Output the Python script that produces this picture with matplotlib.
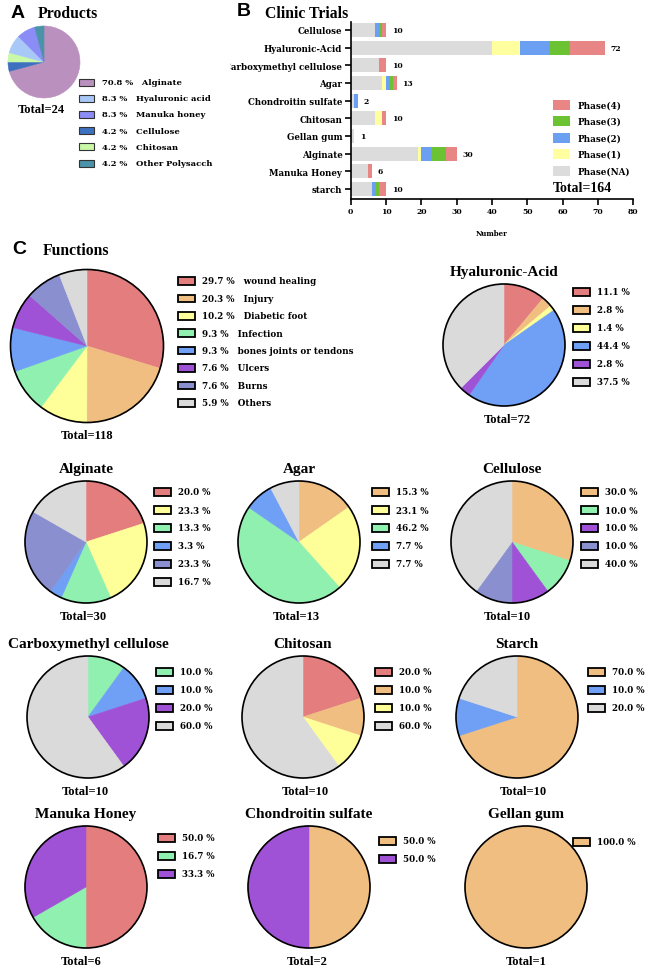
import numpy as np
import matplotlib
matplotlib.use("Agg")
import matplotlib.pyplot as plt
from matplotlib.patches import Rectangle, Circle
from matplotlib.transforms import Bbox

# ---------------- data ----------------
# Panel A: products
product_labels = ["Alginate", "Hyaluronic acid", "Manuka honey", "Cellulose", "Chitosan", "Other Polysacch"]
product_pct = [70.8, 8.3, 8.3, 4.2, 4.2, 4.2]
product_colors = ["#BA90BE", "#A8C8F8", "#8C8CF6", "#3E70C0", "#C8F8A8", "#4A93A8"]
product_pie_order = [0, 3, 4, 1, 2, 5]   # clockwise from top
product_total = 24

# Panel B: clinical trials by phase
trial_categories = ["Cellulose", "Hyaluronic-Acid", "Carboxymethyl cellulose", "Agar",
                    "Chondroitin sulfate", "Chitosan", "Gellan gum", "Alginate",
                    "Manuka Honey", "starch"]
phase_na = [7, 40, 8, 9, 1, 7, 1, 19, 5, 6]
phase_1 = [0, 8, 0, 1, 0, 2, 0, 1, 0, 0]
phase_2 = [1, 8, 0, 1, 1, 0, 0, 3, 0, 1]
phase_3 = [1, 6, 0, 1, 0, 0, 0, 4, 0, 1]
phase_4 = [1, 10, 2, 1, 0, 1, 0, 3, 1, 2]
phase_names = ["Phase(NA)", "Phase(1)", "Phase(2)", "Phase(3)", "Phase(4)"]
phase_colors = ["#DCDCDC", "#FFFFA0", "#6B9FF2", "#6BC232", "#E88585"]
trial_total = 164

# Panel C: functions
functions = ["wound healing", "Injury", "Diabetic foot", "Infection",
             "bones joints or tendons", "Ulcers", "Burns", "Others"]
function_colors = ["#E47E7E", "#F0BE80", "#FFFF99", "#8FF0B0",
                   "#6FA0F5", "#A052D6", "#8A8FD0", "#DADADA"]
function_pct = [29.7, 20.3, 10.2, 9.3, 9.3, 7.6, 7.6, 5.9]
function_total = 118

# per-material function split: (name, function indices, percentages, total)
materials = [
    ("Hyaluronic-Acid", [0, 1, 2, 4, 5, 7], [11.1, 2.8, 1.4, 44.4, 2.8, 37.5], 72),
    ("Alginate", [0, 2, 3, 4, 6, 7], [20.0, 23.3, 13.3, 3.3, 23.3, 16.7], 30),
    ("Agar", [1, 2, 3, 4, 7], [15.3, 23.1, 46.2, 7.7, 7.7], 13),
    ("Cellulose", [1, 3, 5, 6, 7], [30.0, 10.0, 10.0, 10.0, 40.0], 10),
    ("Carboxymethyl cellulose", [3, 4, 5, 7], [10.0, 10.0, 20.0, 60.0], 10),
    ("Chitosan", [0, 1, 2, 7], [20.0, 10.0, 10.0, 60.0], 10),
    ("Starch", [1, 4, 7], [70.0, 10.0, 20.0], 10),
    ("Manuka Honey", [0, 3, 5], [50.0, 16.7, 33.3], 6),
    ("Chondroitin sulfate", [1, 5], [50.0, 50.0], 2),
    ("Gellan gum", [1], [100.0], 1),
]

# layout of the small pies (pixels): centre x, centre y, legend x, legend first row y, total x
small_layout = [
    (504, 346, 573, 293, 507),
    (86, 543, 154, 493, 83),
    (299, 543, 372, 493, 296),
    (512, 543, 581, 493, 507),
    (88, 718, 156, 673, 85),
    (303, 718, 375, 673, 305),
    (517, 718, 588, 673, 523),
    (86, 888, 158, 839, 81),
    (309, 888, 379, 842, 307),
    (526, 888, 573, 843, 526),
]

# ---------------- figure ----------------
SERIF = "Liberation Serif"
TRACK = "DejaVu Serif"
W, H = 652, 970
fig = plt.figure(figsize=(W / 100, H / 100), dpi=100)
canvas = fig.add_axes([0, 0, 1, 1])
canvas.set_xlim(0, W)
canvas.set_ylim(H, 0)
canvas.axis("off")
canvas.set_zorder(10)  # keep legends and labels above the chart axes
canvas.patch.set_alpha(0)


def px_axes(x0, y0, w, h):
    return fig.add_axes([x0 / W, 1 - (y0 + h) / H, w / W, h / H])


def draw_pie(cx, cy, r, values, colors, outline=True):
    pad = 3
    ax = px_axes(cx - r - pad, cy - r - pad, 2 * (r + pad), 2 * (r + pad))
    wedges, _ = ax.pie(values, colors=colors, startangle=90, counterclock=False, radius=1,
                       wedgeprops=dict(linewidth=0.4))
    for w in wedges:
        w.set_edgecolor(w.get_facecolor())
    if outline:
        ax.add_patch(Circle((0, 0), 1, fill=False, ec="black", lw=1.2))
    lim = 1 + pad / r
    ax.set_xlim(-lim, lim)
    ax.set_ylim(-lim, lim)
    return ax


def draw_legend(x, y0, dy, labels, colors, pw=17, ph=7.5, edge="black", lw=1.3, gap=7, size=6.3):
    for i, (lab, c) in enumerate(zip(labels, colors)):
        y = y0 + i * dy
        canvas.add_patch(Rectangle((x, y - ph / 2), pw, ph, fc=c, ec=edge, lw=lw))
        canvas.text(x + pw + gap, y, lab, ha="left", va="center", fontsize=size,
                    fontweight="bold", family=TRACK)


def bold_text(x, y, s, size, family=SERIF, ha="center"):
    canvas.text(x, y, s, ha=ha, va="center", fontsize=size, fontweight="bold", family=family)


# panel letters and headers
bold_text(11, 13, "A", 14, "Liberation Sans", ha="left")
bold_text(38, 14, "Products", 11.3, ha="left")
bold_text(237, 12, "B", 14, "Liberation Sans", ha="left")
bold_text(265, 14, "Clinic Trials", 11.3, ha="left")
bold_text(12, 249, "C", 14, "Liberation Sans", ha="left")
bold_text(43, 251, "Functions", 11.3, ha="left")

# ---- panel A ----
draw_pie(44, 63, 36, [product_pct[i] for i in product_pie_order],
         [product_colors[i] for i in product_pie_order], outline=False)
draw_legend(79, 83, 16.2, [f"{p:.1f} %   {n}" for p, n in zip(product_pct, product_labels)],
            product_colors, pw=15, ph=7, edge="#333333", lw=0.8, gap=8, size=6.0)
bold_text(41, 110, f"Total={product_total}", 9)

# ---- panel B ----
axb = px_axes(350.7, 23, 282.6, 177)
axb.patch.set_visible(False)
ypos = np.arange(len(trial_categories))
left = np.zeros(len(trial_categories))
for vals, col in zip([phase_na, phase_1, phase_2, phase_3, phase_4], phase_colors):
    axb.barh(ypos, vals, left=left, height=0.79, color=col, lw=0)
    left += np.array(vals)
for i, tot in enumerate(left):
    axb.annotate(f"{int(tot)}", (tot, i), xytext=(4, 0), textcoords="offset points",
                 ha="left", va="center", fontsize=5.5, fontweight="bold", family=TRACK)
axb.set_xlim(0, 80)
axb.set_ylim(9.57, -0.45)
axb.set_xticks(range(0, 81, 10))
axb.set_yticks(ypos, trial_categories)
for side in ["top", "right"]:
    axb.spines[side].set_visible(False)
for side in ["left", "bottom"]:
    axb.spines[side].set_linewidth(1.2)
axb.tick_params(axis="both", direction="out", length=4, width=1.2, pad=2)
for lab in axb.get_xticklabels():
    lab.set_fontsize(5.5)
    lab.set_fontweight("bold")
    lab.set_family(TRACK)
for lab in axb.get_yticklabels():
    lab.set_fontsize(6.2)
    lab.set_fontweight("bold")
    lab.set_family(TRACK)
    lab.set_clip_on(True)
    lab.set_clip_box(Bbox.from_extents(230, 0, W, H))
axb.set_xlabel("Number", fontsize=5, fontweight="bold", family=TRACK)
axb.xaxis.set_label_coords(0.5, -0.17)

draw_legend(553, 106, 16.4, phase_names[::-1], phase_colors[::-1],
            pw=17, ph=10, edge="none", lw=0, gap=8, size=6.3)
bold_text(553, 188, f"Total={trial_total}", 10, ha="left")

# ---- panel C: overall functions ----
draw_pie(87, 347, 76.5, function_pct, function_colors)
draw_legend(178, 282, 17.4, [f"{p:.1f} %   {n}" for p, n in zip(function_pct, functions)],
            function_colors)
bold_text(87, 436, f"Total={function_total}", 9)

# ---- small pies ----
for (name, idx, pct, tot), (cx, cy, lx, ly, tx) in zip(materials, small_layout):
    cols = [function_colors[i] for i in idx]
    draw_pie(cx, cy, 61, pct, cols)
    bold_text(cx, cy - 73, name, 11)
    draw_legend(lx, ly, 18.0, [f"{p:.1f} %" for p in pct], cols)
    bold_text(tx, cy + 74, f"Total={tot}", 9)

fig.savefig("out.png", dpi=100)
